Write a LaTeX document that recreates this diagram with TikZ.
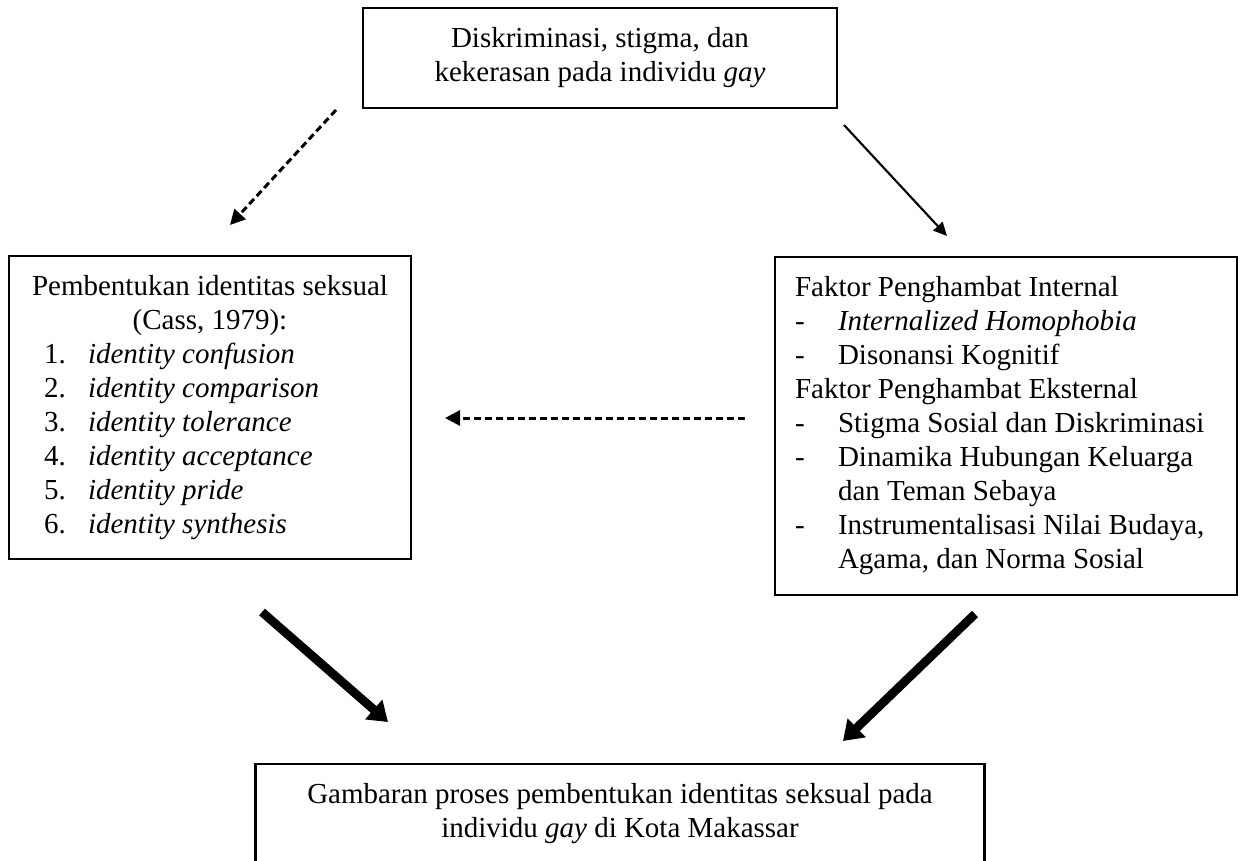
\documentclass[tikz,border=0pt]{standalone}
\usepackage{fontspec}
\setmainfont{Liberation Serif}
\usetikzlibrary{arrows.meta}
\tikzset{kotak/.style={draw, line width=1.6pt, inner sep=0pt, align=center, font=\fontsize{16.5}{19.35}\selectfont}}
\newcommand{\tahap}[2]{\hspace*{0.7cm}\makebox[0.88cm][l]{#1.}\textit{#2}}
\newcommand{\butir}[1]{\hspace*{0.4cm}\makebox[0.86cm][l]{-}#1}

\begin{document}
\begin{tikzpicture}[x=0.02cm, y=-0.02cm,
  putus/.style={dashed, dash pattern=on 0.14cm off 0.08cm, line width=1.7pt, -{Triangle[length=0.3cm, width=0.3cm]}},
  tipis/.style={line width=1.2pt, -{Triangle[length=0.27cm, width=0.25cm]}},
  tebal/.style={line width=5pt, -{Triangle[length=0.38cm, width=0.5cm]}}]
\useasboundingbox (0,0) rectangle (1245,860);
\node[kotak, minimum width=9.48cm, minimum height=2cm] (sebab) at (600,58) {Diskriminasi, stigma, dan\\kekerasan pada individu \textit{gay}};
\node[kotak, align=flush left, text width=8.04cm, minimum height=6.06cm] (cass) at (210,407.5) {\makebox[\linewidth]{Pembentukan identitas seksual}\\\makebox[\linewidth]{(Cass, 1979):}\\\tahap{1}{identity confusion}\\\tahap{2}{identity comparison}\\\tahap{3}{identity tolerance}\\\tahap{4}{identity acceptance}\\\tahap{5}{identity pride}\\\tahap{6}{identity synthesis}};
\node[kotak, align=flush left, text width=9.24cm, minimum height=6.76cm] (hambat) at (1006,426) {\hspace*{0.4cm}Faktor Penghambat Internal\\\butir{\textit{Internalized Homophobia}}\\\butir{Disonansi Kognitif}\\\hspace*{0.4cm}Faktor Penghambat Eksternal\\\butir{Stigma Sosial dan Diskriminasi}\\\butir{Dinamika Hubungan Keluarga}\\\hspace*{1.26cm}dan Teman Sebaya\\\butir{Instrumentalisasi Nilai Budaya,}\\\hspace*{1.26cm}Agama, dan Norma Sosial};
\node[kotak, minimum width=14.58cm, minimum height=2cm] (hasil) at (620,814) {Gambaran proses pembentukan identitas seksual pada\\individu \textit{gay} di Kota Makassar};
% ujung-ujung panah
\coordinate (p1a) at (336,110);
\coordinate (p1b) at (230,225);
\coordinate (p2a) at (844,125);
\coordinate (p2b) at (947,236);
\coordinate (p3a) at (745,418);
\coordinate (p3b) at (445,418);
\coordinate (p4a) at (262,612);
\coordinate (p4b) at (388,722);
\coordinate (p5a) at (975,614);
\coordinate (p5b) at (843,741);
\draw[putus] (p1a) -- (p1b);
\draw[tipis] (p2a) -- (p2b);
\draw[putus] (p3a) -- (p3b);
\draw[tebal] (p4a) -- (p4b);
\draw[tebal] (p5a) -- (p5b);
\end{tikzpicture}
\end{document}
